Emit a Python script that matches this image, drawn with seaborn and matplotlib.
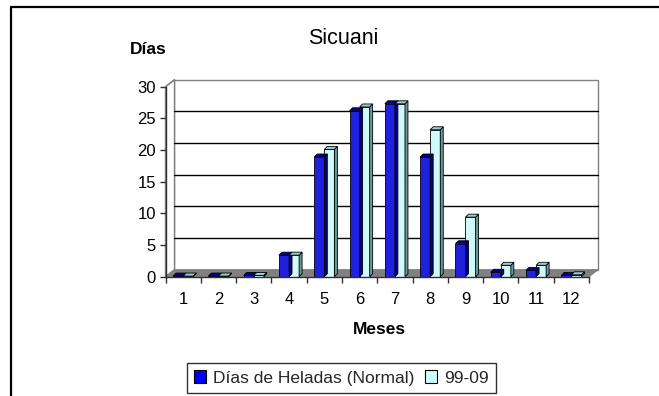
import matplotlib
matplotlib.use("Agg")
import matplotlib.pyplot as plt
from matplotlib.patches import Polygon, Patch
from matplotlib.lines import Line2D
import seaborn as sns
import pandas as pd

# Monthly frost days at Sicuani
meses = ["1", "2", "3", "4", "5", "6", "7", "8", "9", "10", "11", "12"]
normal = [0.1, 0.1, 0.2, 3.4, 18.9, 26.2, 27.3, 18.9, 5.2, 0.7, 1.0, 0.2]
periodo = [0.1, 0.1, 0.2, 3.4, 20.1, 26.8, 27.3, 23.2, 9.4, 1.8, 1.8, 0.3]
series = ["Días de Heladas (Normal)", "99-09"]
colores = ["#0000FF", "#CCFFFF"]
lados = ["#000080", "#669999"]
techos = ["#00009A", "#99CCCC"]
yticks = [0, 5, 10, 15, 20, 25, 30]

df = pd.DataFrame({
    "Mes": meses * 2,
    "Serie": [series[0]] * len(meses) + [series[1]] * len(meses),
    "Valor": normal + periodo,
})

W, H, DPI = 659, 396, 100
sns.set_theme(style="white")
plt.rcParams["font.family"] = ["Liberation Sans", "DejaVu Sans"]

fig = plt.figure(figsize=(W / DPI, H / DPI), dpi=DPI)
fig.patch.set_facecolor("white")

# plot frame (front edge of the floor / left axis) in pixels
x0, x1 = 165.5, 589.0
y0, y1 = 276.7, 86.7
ax = fig.add_axes([x0 / W, 1 - y0 / H, (x1 - x0) / W, (y0 - y1) / H])
ax.set_facecolor("none")
ax.set_xlim(-0.5, 11.5)
ax.set_ylim(0, 30)

# pixel -> data conversions for the oblique depth
px_x = 12.0 / (x1 - x0)
px_y = 30.0 / (y0 - y1)
DX, DY = 9 * px_x, 7 * px_y        # depth of walls / floor
bx, by = 3 * px_x, 3 * px_y        # depth of each column

# back wall and side wall
ax.add_patch(Polygon([(-0.5 + DX, DY), (11.5 + DX, DY), (11.5 + DX, 30 + DY), (-0.5 + DX, 30 + DY)],
                     closed=True, facecolor="white", edgecolor="#808080", lw=1.0, clip_on=False, zorder=0))
ax.add_patch(Polygon([(-0.5, 0), (-0.5 + DX, DY), (-0.5 + DX, 30 + DY), (-0.5, 30)],
                     closed=True, facecolor="white", edgecolor="#808080", lw=1.0, clip_on=False, zorder=0))
for v in yticks[1:-1]:
    ax.plot([-0.5 + DX, 11.5 + DX], [v + DY, v + DY], color="black", lw=1.0, clip_on=False, zorder=0.5)
# floor
ax.add_patch(Polygon([(-0.5, 0), (11.5, 0), (11.5 + DX, DY), (-0.5 + DX, DY)],
                     closed=True, facecolor="#808080", edgecolor="#808080", lw=0.8, clip_on=False, zorder=0.6))

sns.barplot(data=df, x="Mes", y="Valor", hue="Serie", palette=colores, width=0.57,
            edgecolor="black", linewidth=0.6, legend=False, ax=ax, zorder=2)

# side and top faces of each column
for i, cont in enumerate(ax.containers):
    for p in cont.patches:
        xl, w, h = p.get_x(), p.get_width(), p.get_height()
        xr = xl + w
        ax.add_patch(Polygon([(xr, 0), (xr + bx, by), (xr + bx, h + by), (xr, h)], closed=True,
                             facecolor=lados[i], edgecolor="black", lw=0.6, zorder=2.1, clip_on=False))
        ax.add_patch(Polygon([(xl, h), (xr, h), (xr + bx, h + by), (xl + bx, h + by)], closed=True,
                             facecolor=techos[i], edgecolor="black", lw=0.6, zorder=2.1, clip_on=False))

for s in ["top", "right"]:
    ax.spines[s].set_visible(False)
for s in ["left", "bottom"]:
    ax.spines[s].set_visible(True)
    ax.spines[s].set_color("#303030")
    ax.spines[s].set_linewidth(1.0)
    ax.spines[s].set_zorder(3)
ax.plot([-0.5, -0.5 + DX], [30, 30 + DY], color="#808080", lw=1.0, clip_on=False)

ax.set_yticks(yticks)
ax.set_yticklabels([str(v) for v in yticks])
ax.set_xticks(range(len(meses)))
ax.set_xticklabels(meses)
ax.set_xticks([k - 0.5 for k in range(len(meses) + 1)], minor=True)
ax.tick_params(axis="y", which="major", direction="out", length=4, width=1, color="#303030",
               left=True, pad=3, labelsize=12, labelcolor="black")
ax.tick_params(axis="x", which="major", length=0, pad=11, labelsize=12, labelcolor="black")
ax.tick_params(axis="x", which="minor", direction="out", length=4, width=1, color="#303030", bottom=True)
ax.set_xlabel("")
ax.set_ylabel("")
ax.grid(False)

fig.text(343 / W, 1 - 38 / H, "Sicuani", ha="center", va="center", fontsize=15.5, color="black")
fig.text(148 / W, 1 - 50 / H, "Días", ha="center", va="center", fontsize=12.5, fontweight="bold", color="black")
fig.text(379 / W, 1 - 330 / H, "Meses", ha="center", va="center", fontsize=12.5, fontweight="bold", color="black")

handles = [Patch(facecolor=c, edgecolor="black", lw=0.8) for c in colores]
leg = fig.legend(handles, series, loc="center", bbox_to_anchor=(341.5 / W, 1 - 378 / H), ncol=2,
                 frameon=True, fancybox=False, edgecolor="black", fontsize=12.5,
                 handlelength=0.7, handleheight=0.7, handletextpad=0.4, columnspacing=0.6,
                 borderpad=0.4, borderaxespad=0)
leg.get_frame().set_linewidth(1.0)

# outer frame lines
fig.add_artist(Line2D([11 / W, 1.0], [1 - 7 / H, 1 - 7 / H], color="black", lw=1.6, transform=fig.transFigure))
fig.add_artist(Line2D([11 / W, 11 / W], [0.0, 1 - 7 / H], color="black", lw=1.6, transform=fig.transFigure))

fig.savefig("out.png", dpi=DPI, facecolor="white")
